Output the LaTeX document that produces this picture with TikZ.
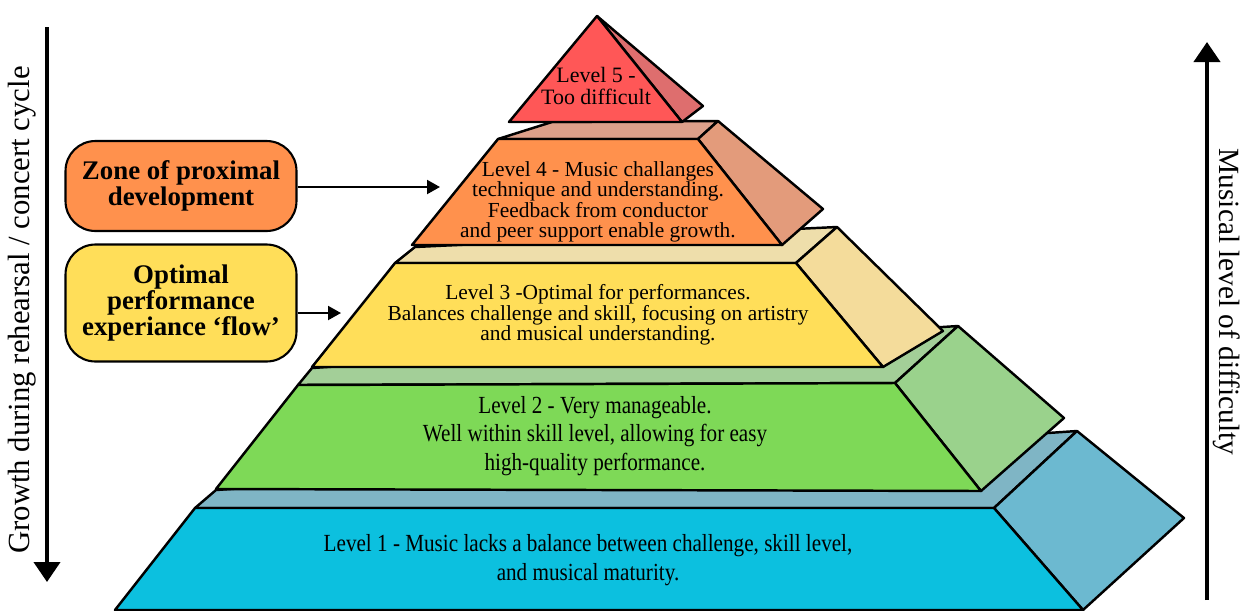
\documentclass[tikz,border=0pt]{standalone}
\usepackage{fontspec}
\setmainfont{Liberation Serif}
\newfontfamily\narrowserif[FakeStretch=0.86]{Liberation Serif}
\usetikzlibrary{arrows.meta}

\definecolor{lfivefront}{HTML}{FF5757}
\definecolor{lfiveside}{HTML}{DE6E6E}
\definecolor{lfourfront}{HTML}{FF914D}
\definecolor{lfourtop}{HTML}{DDA08A}
\definecolor{lfourside}{HTML}{E39B7B}
\definecolor{lthreefront}{HTML}{FFDE59}
\definecolor{lthreetop}{HTML}{EEDEAB}
\definecolor{lthreeside}{HTML}{F4DC9B}
\definecolor{ltwofront}{HTML}{7ED957}
\definecolor{ltwotop}{HTML}{A3CF98}
\definecolor{ltwoside}{HTML}{9AD28C}
\definecolor{lonefront}{HTML}{0CC0DF}
\definecolor{lonetop}{HTML}{7FB5C5}
\definecolor{loneside}{HTML}{6CB9D0}

\tikzstyle{face}=[draw=black,line width=1.4pt,line join=round]
\tikzstyle{lvl}=[align=center,font=\fontsize{12.2}{11.6}\selectfont]
\tikzstyle{lvlwide}=[align=center,font=\narrowserif\fontsize{14}{16.2}\selectfont]
\tikzstyle{zone}=[draw=black,line width=1.2pt,rounded corners=17pt,minimum width=4.62cm,align=center,font=\fontsize{15.3}{15}\selectfont\bfseries]
\tikzstyle{axis}=[line width=2.3pt,-{Triangle[length=0.4cm,width=0.52cm]}]
\tikzstyle{axislabel}=[inner sep=0pt]
\tikzstyle{pointer}=[line width=1.2pt,-{Triangle[length=0.26cm,width=0.28cm]}]

\begin{document}
\begin{tikzpicture}[x=0.02cm,y=-0.02cm]

   \useasboundingbox (0,0) rectangle (1242,610);

   % Level 1

   \filldraw[face,fill=lonetop] (195,508) -- (216,490) -- (1077,431) -- (994,508) -- cycle;
   \filldraw[face,fill=loneside] (994,508) -- (1077,431) coordinate(l1bk)
-- (1184,518) -- (1083,610) -- cycle;
   \filldraw[face,fill=lonefront] (115,610) coordinate(l1bl) -- (1083,610)
coordinate(l1br) -- (994,508) coordinate(l1tr) -- (195,508) coordinate(l1tl) -- cycle;

   \node[lvlwide] (l1txt) at (588,560) {Level 1 - Music lacks a balance between challenge, skill level,\\and musical maturity.};

   % Level 2

   \filldraw[face,fill=ltwotop] (298,385) -- (312,368) -- (958,326) -- (895,383) -- cycle;
   \filldraw[face,fill=ltwoside] (895,383) -- (958,326) coordinate(l2bk)
-- (1064,418) -- (981,491) -- cycle;
   \filldraw[face,fill=ltwofront] (216,489) coordinate(l2bl) -- (981,491)
coordinate(l2br) -- (895,383) coordinate(l2tr) -- (298,385) coordinate(l2tl) -- cycle;

   \node[lvlwide] (l2txt) at (595,436) {Level 2 - Very manageable.\\Well within skill level, allowing for easy\\high-quality performance.};

   % Level 3

   \filldraw[face,fill=lthreetop] (395,263) -- (415,247) -- (837,227) -- (796,263) -- cycle;
   \filldraw[face,fill=lthreeside] (796,263) -- (837,227) coordinate(l3bk)
-- (943,331) -- (883,367) -- cycle;
   \filldraw[face,fill=lthreefront] (312,367) coordinate(l3bl) -- (883,367)
coordinate(l3br) -- (796,263) coordinate(l3tr) -- (395,263) coordinate(l3tl) -- cycle;

   \node[lvl] (l3txt) at (598,315) {Level 3 -Optimal for performances.\\Balances challenge and skill, focusing on artistry\\and musical understanding.};

   % Level 4

   \filldraw[face,fill=lfourtop] (498,139) -- (552,122) -- (718,121) -- (698,139) -- cycle;
   \filldraw[face,fill=lfourside] (698,139) -- (718,121) coordinate(l4bk)
-- (823,209) -- (782,245) -- cycle;
   \filldraw[face,fill=lfourfront] (412,245) coordinate(l4bl) -- (782,245)
coordinate(l4br) -- (698,139) coordinate(l4tr) -- (498,139) coordinate(l4tl) -- cycle;

   \node[lvl] (l4txt) at (598,202) {Level 4 - Music challanges\\technique and understanding.\\Feedback from conductor\\and peer support enable growth.};

   % Level 5

   \filldraw[face,fill=lfiveside] (597,16) -- (703,106) -- (682,122) -- cycle;
   \filldraw[face,fill=lfivefront] (509,122) coordinate(l5bl) -- (682,122)
coordinate(l5br) -- (597,16) coordinate(l5top) -- cycle;

   \node[lvl,font=\fontsize{12.5}{12.5}\selectfont] (l5txt) at (596,86) {Level 5 -\\Too difficult};

   % Zones

   \node[zone,fill=lfourfront,minimum height=1.8cm] (zpd) at (181,186) {Zone of proximal\\development};
   \node[zone,fill=lthreefront,minimum height=2.34cm] (flow) at (181,303) {Optimal\\performance\\experiance `flow'};

   \coordinate (zpdend) at (440,187);
   \coordinate (flowend) at (341,313);
   \draw[pointer] (zpd.east |- zpdend) -- (zpdend);
   \draw[pointer] (flow.east |- flowend) -- (flowend);

   % Axes

   \coordinate (growtop) at (47,27);
   \coordinate (growbot) at (47,582);
   \draw[axis] (growtop) -- (growbot);
   \node[axislabel,rotate=90,font=\fontsize{17.5}{18}\selectfont] (growth) at (22,310) {Growth during rehearsal / concert cycle};

   \coordinate (diffbot) at (1207,600);
   \coordinate (difftop) at (1207,42);
   \draw[axis] (diffbot) -- (difftop);
   \node[axislabel,rotate=-90,font=\fontsize{16.7}{17}\selectfont] (difficulty) at (1227,302) {Musical level of difficulty};

\end{tikzpicture}
\end{document}
